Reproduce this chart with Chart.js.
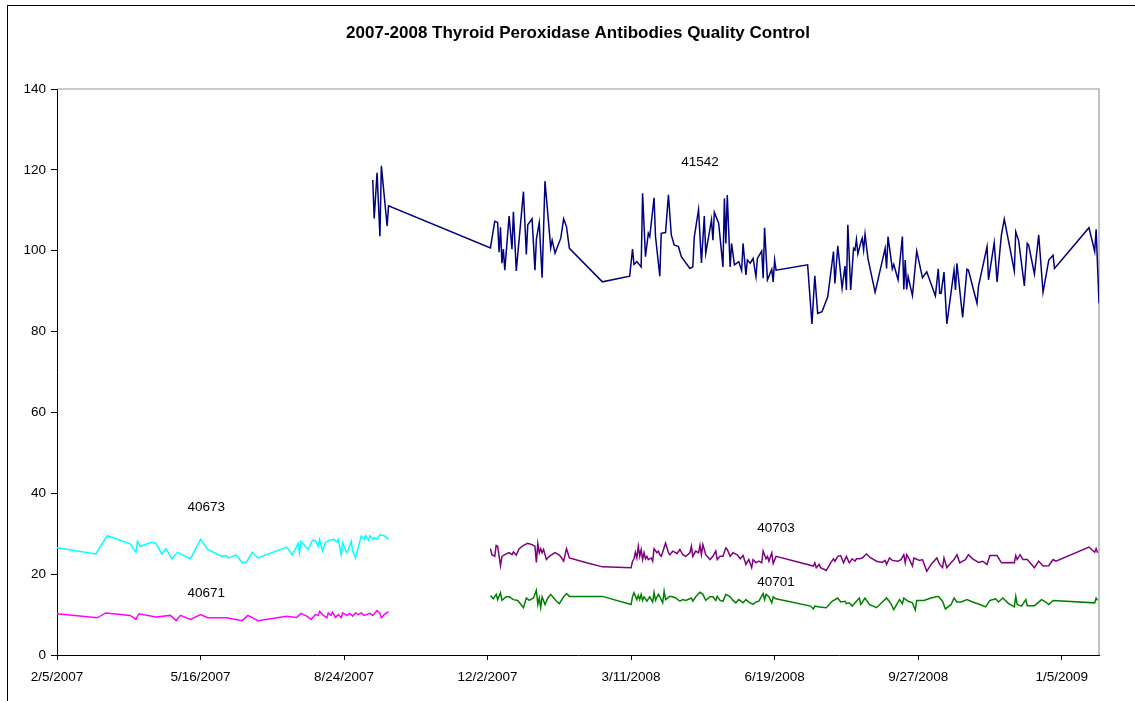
<!DOCTYPE html>
<html>
<head>
<meta charset="utf-8">
<title>2007-2008 Thyroid Peroxidase Antibodies Quality Control</title>
<script src="https://cdn.jsdelivr.net/npm/chart.js@4/dist/chart.umd.min.js"></script>
<style>
  html, body { margin: 0; padding: 0; background: #fff; }
  #wrap { width: 1135px; height: 701px; }
</style>
</head>
<body>
<div id="wrap"><canvas id="chartContainer" width="1135" height="701"></canvas></div>
<script>
// x values are days counted from 2/5/2007
var startDate = [2007, 1, 5];
var chartTitle = '2007-2008 Thyroid Peroxidase Antibodies Quality Control';
var yTicks = [0, 20, 40, 60, 80, 100, 120, 140];
var xTickDays = [0, 100, 200, 300, 400, 500, 600, 700];
var xMaxDay = 726;

var lotNames = ['41542', '40673', '40671', '40703', '40701'];
var lotLabelDays = [448, 104, 104, 501, 501];
var lotLabelVals = [121.8, 36.5, 15.2, 31.3, 17.9];
var lotColors = ['#000080', '#00FFFF', '#FF00FF', '#800080', '#008000'];

var days41542 = [220,221,223,225,226,230,231,302,305,307,308,309,310,311,312,315,317,318,320,325,327,328,331,333,334,336,338,340,344,345,347,351,353,355,357,380,399,401,402,404,407,408,410,412,413,416,417,420,421,424,426,428,430,433,435,441,443,444,447,449,451,452,454,456,457,458,461,464,465,466,467,469,470,472,475,477,478,480,481,483,485,487,488,491,492,493,495,498,499,500,501,523,526,528,530,533,537,541,542,544,547,549,550,551,553,555,556,557,558,560,561,562,563,565,570,577,578,579,582,583,586,589,590,591,592,593,596,599,603,606,612,614,615,616,618,620,625,626,627,631,634,635,641,642,648,649,653,655,657,658,660,667,668,670,674,676,677,681,684,687,691,694,695,719,723,724,726];
var vals41542 = [117.5,108.0,119.3,103.6,121.0,106.1,111.1,100.7,107.3,107.0,99.6,105.8,96.9,100.4,95.2,108.6,100.4,109.6,95.0,114.6,99.1,106.4,107.9,95.2,102.8,106.9,93.3,117.2,100.7,102.6,99.4,103.1,107.9,105.9,100.6,92.3,93.7,100.4,96.6,97.3,96.0,114.2,98.5,104.3,103.5,113.1,103.5,93.7,104.3,104.5,113.8,103.9,101.4,101.0,98.5,95.6,96.0,103.3,110.2,97.0,108.6,99.4,103.5,107.6,102.6,109.5,106.8,96.0,112.9,101.8,113.8,96.0,101.8,96.5,97.3,95.1,101.8,94.0,97.7,96.9,98.1,93.6,98.1,99.9,93.2,105.7,92.8,95.4,92.3,97.7,95.2,96.5,81.9,93.8,84.5,84.9,88.6,99.8,91.9,101.2,90.7,96.2,90.3,106.4,90.3,100.6,100.2,102.8,99.2,102.0,103.1,100.2,104.1,98.1,89.7,100.6,95.6,103.5,95.5,96.6,92.8,103.5,90.4,97.7,90.4,93.6,88.9,99.9,93.3,94.8,88.8,95.5,89.5,89.5,94.7,81.9,95.2,90.3,96.9,83.5,95.4,95.2,87.0,91.1,101.0,92.8,102.0,92.3,100.2,103.9,107.8,95.0,104.7,102.5,91.3,101.8,101.4,94.2,103.9,89.7,97.7,98.9,95.6,105.7,99.8,105.3,87.0];

var days40673 = [0,27,35,51,55,56,58,66,69,73,76,80,84,93,100,105,115,118,119,125,129,132,136,140,160,164,168,169,170,175,178,180,182,183,185,187,190,193,195,196,198,199,202,203,205,206,208,211,212,214,215,217,218,220,221,223,225,228,231];
var vals40673 = [26.5,25.0,29.5,27.5,25.4,28.1,26.9,27.9,27.6,25.0,26.3,23.8,25.4,23.8,28.6,26.1,24.4,24.6,24.0,24.7,22.8,23.0,25.4,24.0,26.7,24.8,27.6,25.3,28.1,26.1,28.4,28.3,26.9,28.6,25.7,27.9,28.4,28.6,28.0,28.6,24.8,27.7,25.3,26.1,28.1,25.7,24.0,28.1,29.4,28.6,29.5,28.4,29.5,28.6,29.0,28.6,29.8,29.5,28.6];

var days40671 = [0,28,34,51,55,57,69,79,83,86,93,100,105,118,129,133,140,160,167,170,174,177,180,182,183,185,188,189,191,192,194,196,198,199,202,204,206,208,210,212,214,218,220,223,225,226,228,231];
var vals40671 = [10.2,9.2,10.4,9.8,8.8,10.2,9.4,9.8,8.5,9.8,8.8,10.0,9.2,9.2,8.5,9.8,8.5,9.6,9.3,10.3,9.6,8.8,10.0,9.8,10.8,10.0,9.2,10.4,9.8,10.6,9.3,10.0,9.2,10.4,9.8,10.3,9.6,10.4,10.0,10.4,9.8,10.3,9.8,11.0,10.3,9.2,10.0,10.7];

var days40703 = [302,303,305,306,307,309,310,313,315,317,318,320,322,325,328,331,333,334,335,336,337,338,339,341,343,347,350,351,353,355,357,369,380,400,401,402,403,404,405,406,407,408,409,410,411,412,414,415,416,418,419,420,421,422,424,426,427,429,432,434,436,438,441,442,443,445,447,448,449,450,452,455,457,459,460,462,464,466,467,469,471,474,476,478,480,482,484,485,487,489,491,492,494,495,496,498,499,501,527,528,529,531,532,536,539,541,542,544,546,548,550,552,554,556,557,559,561,564,567,571,575,577,578,580,582,586,588,590,591,592,594,596,597,601,603,606,609,613,615,617,618,620,623,625,627,629,631,633,635,638,642,645,648,650,653,655,658,665,667,668,669,671,673,676,678,681,684,687,691,694,696,719,723,724,725];
var vals40703 = [26.3,24.8,24.4,27.1,26.9,22.1,24.4,25.0,25.3,24.8,25.5,24.7,26.3,27.1,27.6,27.3,26.9,22.9,27.5,25.3,26.3,25.3,26.1,23.6,24.4,25.3,24.7,24.3,23.2,26.3,24.0,22.8,21.8,21.6,23.2,23.8,25.4,24.0,26.9,24.4,26.1,23.6,25.3,23.8,24.4,23.6,24.0,23.2,26.3,25.3,25.7,24.8,24.4,25.4,27.7,25.3,24.8,25.7,25.1,26.1,24.8,24.4,25.3,26.9,24.4,25.7,25.3,27.1,24.8,27.3,24.8,23.6,24.4,25.7,23.6,24.4,24.4,26.5,26.1,24.4,25.3,24.8,23.8,24.6,22.4,23.6,21.6,23.6,22.8,23.2,22.8,25.7,23.8,24.4,23.2,25.3,22.6,24.4,22.0,22.8,21.6,22.4,21.6,20.9,22.8,23.8,23.2,24.4,24.6,22.8,24.4,22.8,23.8,23.2,23.8,23.8,24.0,25.0,24.0,23.2,22.9,23.4,22.4,24.0,23.4,23.2,23.6,24.8,22.8,24.8,23.6,22.0,24.0,23.4,23.6,20.7,22.4,24.0,22.4,21.6,24.0,21.6,22.9,23.6,24.8,22.8,23.2,23.6,24.8,23.8,22.9,23.2,22.4,24.6,24.6,24.6,22.8,22.9,22.8,24.6,23.6,24.8,23.6,23.6,22.8,21.6,23.2,22.0,22.1,23.6,23.2,26.7,25.4,26.3,25.3];

var days40701 = [302,304,306,307,309,310,313,315,318,321,325,327,329,332,334,335,336,337,338,340,342,344,348,350,353,355,357,380,400,401,402,404,405,406,407,408,409,411,413,415,416,417,419,420,422,423,424,427,429,431,434,436,438,442,443,445,448,450,452,455,457,459,460,462,464,466,469,471,473,475,478,480,482,485,487,489,492,493,494,496,498,499,501,525,527,528,531,536,540,544,546,549,550,552,554,557,559,560,563,566,571,578,581,583,587,589,590,593,596,598,599,604,609,614,617,619,623,625,627,630,634,638,643,647,650,654,656,659,663,667,668,669,672,675,676,681,686,689,691,694,723,724,725];
var vals40701 = [14.7,13.9,15.0,13.7,15.4,13.5,14.4,14.4,13.7,13.5,11.7,14.1,13.5,14.1,16.0,12.5,14.1,11.7,14.4,12.5,14.1,15.0,13.3,12.7,14.4,15.2,14.5,14.5,12.5,14.5,15.4,13.7,14.7,13.7,15.0,13.5,14.4,13.3,14.4,13.1,15.5,13.5,15.0,14.4,12.9,15.8,13.7,14.5,14.4,14.1,13.3,13.7,13.5,14.1,13.3,14.4,15.5,15.0,13.5,14.4,14.4,13.5,14.5,13.5,13.3,15.0,14.4,13.5,12.9,13.7,12.9,13.7,13.1,12.5,13.1,13.3,15.2,13.7,15.0,14.4,12.9,14.4,13.9,12.1,11.4,12.1,11.9,11.7,13.3,14.1,13.1,13.3,12.7,12.9,12.1,13.3,14.1,12.5,14.1,12.5,11.7,14.1,12.7,11.2,13.7,12.7,14.1,13.3,12.9,11.1,13.5,13.5,14.1,14.5,13.3,11.4,12.5,14.1,13.1,13.1,13.7,13.1,12.5,11.9,13.5,13.9,13.1,14.1,12.7,11.9,14.5,12.5,12.1,13.7,12.2,12.2,13.7,13.1,12.5,13.5,12.9,14.1,13.5];

function toPoints(days, vals) {
  var pts = [];
  for (var i = 0; i < days.length; i++) {
    pts.push({x: days[i], y: vals[i]});
  }
  return pts;
}

function dayLabel(d) {
  var dt = new Date(startDate[0], startDate[1], startDate[2] + d);
  return (dt.getMonth() + 1) + '/' + dt.getDate() + '/' + dt.getFullYear();
}

function makeSet(name, days, vals) {
  var c = lotColors[lotNames.indexOf(name)];
  return {
    label: name,
    data: toPoints(days, vals),
    borderColor: c,
    backgroundColor: c,
    borderWidth: 1.5,
    pointRadius: 0,
    tension: 0,
    fill: false
  };
}

var frame = {
  id: 'frame',
  beforeDraw: function(chart) {
    var ctx = chart.ctx;
    ctx.save();
    ctx.strokeStyle = '#000';
    ctx.lineWidth = 1;
    ctx.strokeRect(7.5, 5.5, 1200, 800);
    ctx.restore();
  },
  beforeDatasetsDraw: function(chart) {
    var a = chart.chartArea, ctx = chart.ctx;
    ctx.save();
    ctx.strokeStyle = '#9a9a9a';
    ctx.lineWidth = 1.2;
    ctx.beginPath();
    ctx.moveTo(a.left, a.top);
    ctx.lineTo(a.right, a.top);
    ctx.lineTo(a.right, a.bottom);
    ctx.stroke();
    ctx.restore();
  },
  afterDatasetsDraw: function(chart) {
    var ctx = chart.ctx;
    var xs = chart.scales.x, ys = chart.scales.y;
    ctx.save();
    ctx.fillStyle = '#000';
    ctx.font = "13.5px 'Liberation Sans', Arial, sans-serif";
    ctx.textAlign = 'center';
    ctx.textBaseline = 'middle';
    for (var i = 0; i < lotNames.length; i++) {
      ctx.fillText(lotNames[i], xs.getPixelForValue(lotLabelDays[i]), ys.getPixelForValue(lotLabelVals[i]));
    }
    ctx.restore();
  }
};

Chart.defaults.font.family = "'Liberation Sans', Arial, sans-serif";
Chart.defaults.font.size = 13.5;
Chart.defaults.color = '#000';

var ctx = document.getElementById('chartContainer').getContext('2d');
var myChart = new Chart(ctx, {
  type: 'line',
  data: {
    datasets: [
      makeSet('41542', days41542, vals41542),
      makeSet('40673', days40673, vals40673),
      makeSet('40671', days40671, vals40671),
      makeSet('40703', days40703, vals40703),
      makeSet('40701', days40701, vals40701)
    ]
  },
  options: {
    responsive: false,
    animation: false,
    layout: { padding: { left: 0, right: 36, top: 0, bottom: 0 } },
    plugins: {
      legend: { display: false },
      tooltip: { enabled: false },
      title: {
        display: true,
        fullSize: false,
        text: chartTitle,
        color: '#000',
        font: { size: 17, weight: 'bold' },
        padding: { top: 23, bottom: 45.6 }
      }
    },
    scales: {
      x: {
        type: 'linear',
        min: 0,
        max: xMaxDay,
        afterFit: function(s) { s.height = 46; },
        afterBuildTicks: function(s) {
          s.ticks = xTickDays.map(function(d) { return {value: d}; });
        },
        ticks: {
          maxRotation: 0,
          autoSkip: false,
          padding: 9,
          callback: function(v) { return dayLabel(v); }
        },
        grid: { drawOnChartArea: false, drawTicks: true, tickLength: 5, color: '#000' },
        border: { color: '#000', width: 1 }
      },
      y: {
        min: 0,
        max: 140,
        afterFit: function(s) { s.width = 57; },
        afterBuildTicks: function(s) {
          s.ticks = yTicks.map(function(v) { return {value: v}; });
        },
        ticks: { padding: 5 },
        grid: { drawOnChartArea: false, drawTicks: true, tickLength: 6, color: '#000' },
        border: { color: '#000', width: 1 }
      }
    }
  },
  plugins: [frame]
});
</script>
</body>
</html>
